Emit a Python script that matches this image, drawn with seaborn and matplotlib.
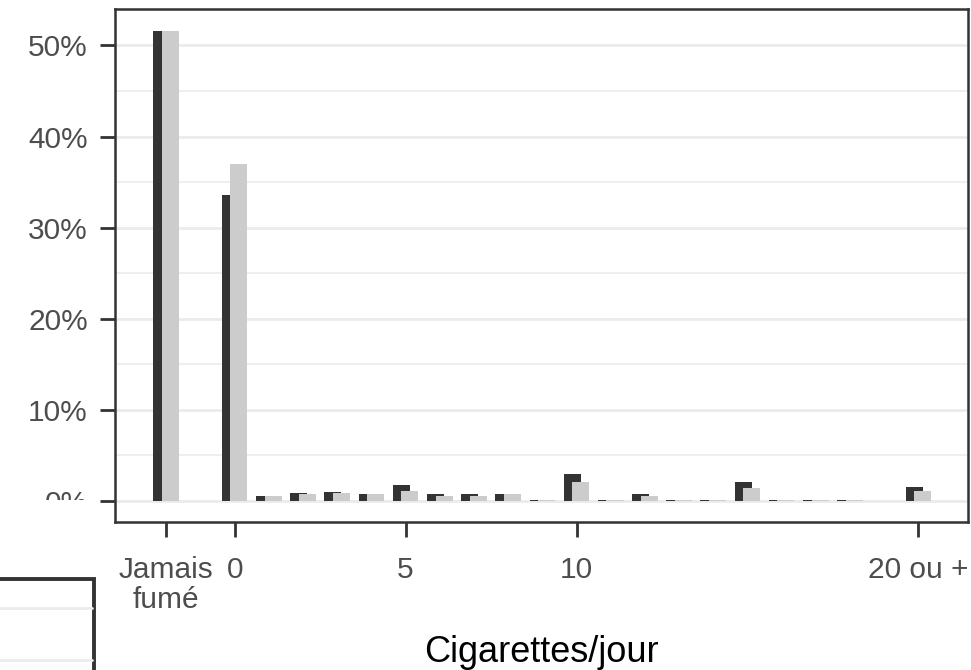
import matplotlib
matplotlib.use("Agg")
import matplotlib.pyplot as plt
from matplotlib.patches import Rectangle
from matplotlib.lines import Line2D
from matplotlib.ticker import MultipleLocator, FuncFormatter
import seaborn as sns

# Cigarettes per day: -2 stands for "never smoked", 20 for "20 or more"
positions = [-2, 0, 1, 2, 3, 4, 5, 6, 7, 8, 9, 10, 11, 12, 13, 14, 15, 16, 17, 18, 20]
share_dark = [51.6, 33.6, 0.5, 0.85, 1.0, 0.75, 1.8, 0.75, 0.75, 0.75, 0.15, 2.95,
              0.15, 0.75, 0.15, 0.15, 2.05, 0.15, 0.15, 0.15, 1.5]
share_light = [51.6, 37.0, 0.5, 0.75, 0.9, 0.75, 1.15, 0.6, 0.6, 0.75, 0.1, 2.05,
               0.1, 0.5, 0.1, 0.1, 1.4, 0.1, 0.1, 0.1, 1.15]
tick_positions = [-2, 0, 5, 10, 20]
tick_labels = ["Jamais\nfumé", "0", "5", "10", "20 ou +"]

sns.set_theme(style="white")
plt.rcParams["font.family"] = ["Liberation Sans", "DejaVu Sans"]

W, H = 971, 670
fig = plt.figure(figsize=(W / 100, H / 100), dpi=100)


def fx(x):
    return x / W


def fy(y):
    return 1 - y / H


ax = fig.add_axes([fx(115), fy(522), fx(968) - fx(115), fy(9) - fy(522)])

shift = 0.125
sns.barplot(x=[p - shift for p in positions], y=share_dark, native_scale=True,
            width=0.5, color="#333333", saturation=1, linewidth=0,
            errorbar=None, ax=ax)
sns.barplot(x=[p + shift for p in positions], y=share_light, native_scale=True,
            width=0.5, color="#cccccc", saturation=1, linewidth=0,
            errorbar=None, ax=ax)

ax.set_xlim(-3.5, 21.45)
ax.set_ylim(-2.3, 54.0)

ax.set_xticks(tick_positions)
ax.set_xticklabels(tick_labels)
ax.get_xticklabels()[0].set_linespacing(1.08)
ax.yaxis.set_major_locator(MultipleLocator(10))
ax.yaxis.set_minor_locator(MultipleLocator(5))
ax.yaxis.set_major_formatter(FuncFormatter(lambda v, _: f"{v:.0f}%"))

ax.set_axisbelow(True)
ax.grid(False)
ax.yaxis.grid(True, which="major", color="#ebebeb", linewidth=2.0)
ax.yaxis.grid(True, which="minor", color="#ebebeb", linewidth=1.1)

ax.tick_params(axis="both", which="major", length=10.5, width=2.0,
               color="#333333", labelcolor="#4d4d4d", labelsize=21.5)
ax.tick_params(axis="y", which="major", pad=9, left=True)
ax.tick_params(axis="x", which="major", pad=14, bottom=True)
ax.tick_params(axis="y", which="minor", length=0)

for side in ax.spines.values():
    side.set_visible(True)
    side.set_color("#333333")
    side.set_linewidth(1.8)

ax.set_xlabel("Cigarettes/jour", fontsize=26, color="black", labelpad=15)
ax.set_ylabel("")

# white band hiding the lower part of the "0%" label
fig.add_artist(Rectangle((fx(0), fy(560)), fx(97), fy(499.5) - fy(560),
                         transform=fig.transFigure, facecolor="white",
                         edgecolor="none", zorder=10))

# framed panel corner at the bottom left
fig.add_artist(Rectangle((fx(-20), fy(700)), fx(114), fy(579) - fy(700),
                         transform=fig.transFigure, facecolor="white",
                         edgecolor="#333333", linewidth=2.8, zorder=11))
for gy in (607.5, 659.5):
    fig.add_artist(Line2D([fx(0), fx(92)], [fy(gy), fy(gy)],
                          transform=fig.transFigure, color="#ebebeb",
                          linewidth=2.0, zorder=12))

fig.savefig("out.png", dpi=100)
